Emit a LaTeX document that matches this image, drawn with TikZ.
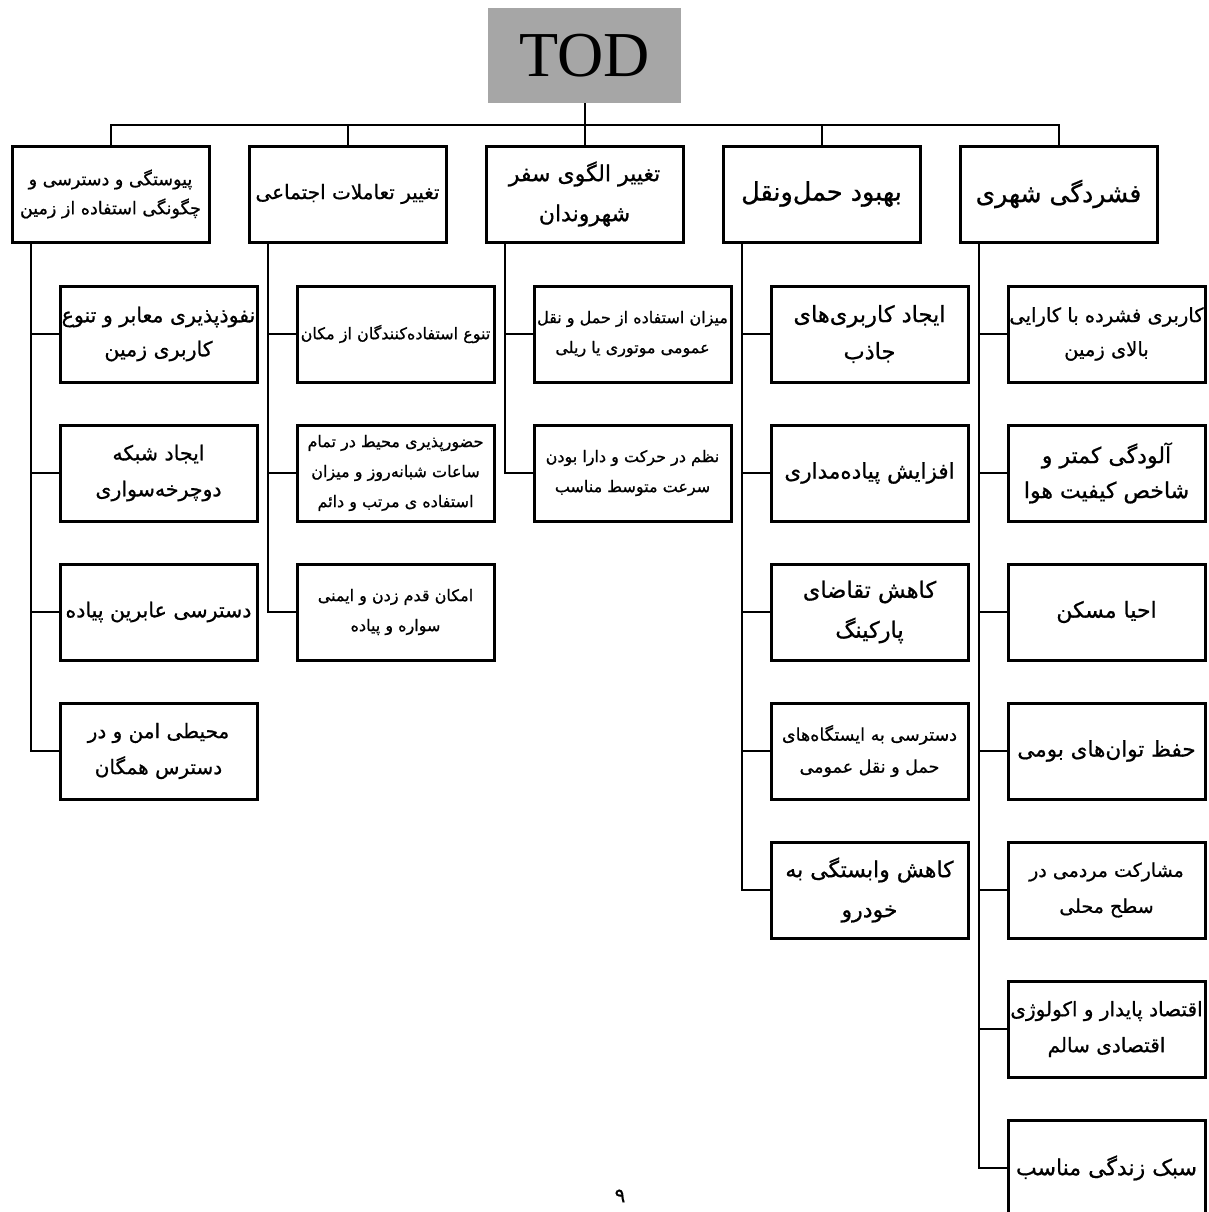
\documentclass[tikz,border=0pt]{standalone}
\usepackage{fontspec}
\newfontfamily\arabicfont[Script=Arabic,FakeBold=0.8]{DejaVu Sans}
\newfontfamily\todfont{Liberation Serif}
\usetikzlibrary{positioning}
\TeXXeTstate=1
\newcommand{\rl}[1]{\beginR #1\endR}
\newcommand{\fsz}[2]{\arabicfont\fontsize{#1}{#2}\selectfont}
\definecolor{todgray}{RGB}{166,166,166}
\tikzset{headbox/.style={rectangle,draw=black,fill=white,line width=3pt,outer sep=0pt,inner sep=0pt,minimum width=197pt,minimum height=96pt,align=center,font=\fsz{24}{40}}}
\tikzset{leafbox/.style={headbox,font=\fsz{21.5}{35}}}
\tikzset{leafsmall/.style={headbox,font=\fsz{16}{30}}}
\tikzset{conn/.style={black,line width=2pt}}

\begin{document}
\begin{tikzpicture}[x=1pt,y=-1pt,node distance=43pt]
  \useasboundingbox (0,0) rectangle (1208,1212);
  \fill[white] (0,0) rectangle (1208,1212);

  % Root
  \node[fill=todgray,minimum width=193pt,minimum height=95pt,inner sep=0pt,font=\todfont\fontsize{64}{64}\selectfont] (tod) at (584.5,55.5) {TOD};

  % Headers
  \node[headbox,font=\fsz{17.5}{29}] (h1) at (110.5,194) {\rl{پیوستگی و دسترسی و}\\\rl{چگونگی استفاده از زمین}};
  \node[headbox,right=40pt of h1,font=\fsz{20}{34}] (h2) {\rl{تغییر تعاملات اجتماعی}};
  \node[headbox,right=40pt of h2,font=\fsz{22}{40}] (h3) {\rl{تغییر الگوی سفر}\\\rl{شهروندان}};
  \node[headbox,right=40pt of h3,font=\fsz{25.5}{40}] (h4) {\rl{بهبود حمل‌ونقل}};
  \node[headbox,right=40pt of h4,font=\fsz{25}{40}] (h5) {\rl{فشردگی شهری}};

  % Column 1
  \node[leafbox,font=\fsz{20.5}{34},below=44pt of h1,xshift=48pt] (a1) {\rl{نفوذپذیری معابر و تنوع}\\\rl{کاربری زمین}};
  \node[leafbox,font=\fsz{20.5}{36},below=of a1] (a2) {\rl{ایجاد شبکه}\\\rl{دوچرخه‌سواری}};
  \node[leafbox,font=\fsz{20.5}{34},below=of a2] (a3) {\rl{دسترسی عابرین پیاده}};
  \node[leafbox,font=\fsz{20}{36},below=of a3] (a4) {\rl{محیطی امن و در}\\\rl{دسترس همگان}};

  % Column 2
  \node[leafsmall,below=44pt of h2,xshift=48pt] (b1) {\rl{تنوع استفاده‌کنندگان از مکان}};
  \node[leafsmall,below=of b1] (b2) {\rl{حضورپذیری محیط در تمام}\\\rl{ساعات شبانه‌روز و میزان}\\\rl{استفاده ی مرتب و دائم}};
  \node[leafsmall,below=of b2] (b3) {\rl{امکان قدم زدن و ایمنی}\\\rl{سواره و پیاده}};

  % Column 3
  \node[leafsmall,below=44pt of h3,xshift=48pt] (c1) {\rl{میزان استفاده از حمل و نقل}\\\rl{عمومی موتوری یا ریلی}};
  \node[leafsmall,below=of c1] (c2) {\rl{نظم در حرکت و دارا بودن}\\\rl{سرعت متوسط مناسب}};

  % Column 4
  \node[leafbox,font=\fsz{22.5}{37},below=44pt of h4,xshift=48pt] (d1) {\rl{ایجاد کاربری‌های}\\\rl{جاذب}};
  \node[leafbox,below=of d1] (d2) {\rl{افزایش پیاده‌مداری}};
  \node[leafbox,font=\fsz{22.5}{40},below=of d2] (d3) {\rl{کاهش تقاضای}\\\rl{پارکینگ}};
  \node[leafbox,font=\fsz{17.5}{32},below=of d3] (d4) {\rl{دسترسی به ایستگاه‌های}\\\rl{حمل و نقل عمومی}};
  \node[leafbox,font=\fsz{22}{40},below=of d4] (d5) {\rl{کاهش وابستگی به}\\\rl{خودرو}};

  % Column 5
  \node[leafbox,font=\fsz{19.5}{34},below=44pt of h5,xshift=48pt] (e1) {\rl{کاربری فشرده با کارایی}\\\rl{بالای زمین}};
  \node[leafbox,font=\fsz{22}{35},below=of e1] (e2) {\rl{آلودگی کمتر و}\\\rl{شاخص کیفیت هوا}};
  \node[leafbox,font=\fsz{22}{35},below=of e2] (e3) {\rl{احیا مسکن}};
  \node[leafbox,font=\fsz{21.5}{35},below=of e3] (e4) {\rl{حفظ توان‌های بومی}};
  \node[leafbox,font=\fsz{19}{36},below=of e4] (e5) {\rl{مشارکت مردمی در}\\\rl{سطح محلی}};
  \node[leafbox,font=\fsz{20}{36},below=of e5] (e6) {\rl{اقتصاد پایدار و اکولوژی}\\\rl{اقتصادی سالم}};
  \node[leafbox,font=\fsz{22}{35},below=of e6] (e7) {\rl{سبک زندگی مناسب}};

  % Tree lines
  \coordinate (bar) at (584.5,125);
  \draw[conn] (tod.south) -- (bar);
  \draw[conn] (h1.north) |- (bar) -| (h5.north);
  \foreach \h in {h2,h3,h4}
    \draw[conn] (\h.north) -- (\h.north |- bar);
  \foreach \c in {a1,a2,a3,a4}
    \draw[conn] ([xshift=19pt]h1.south west) |- (\c.west);
  \foreach \c in {b1,b2,b3}
    \draw[conn] ([xshift=19pt]h2.south west) |- (\c.west);
  \foreach \c in {c1,c2}
    \draw[conn] ([xshift=19pt]h3.south west) |- (\c.west);
  \foreach \c in {d1,d2,d3,d4,d5}
    \draw[conn] ([xshift=19pt]h4.south west) |- (\c.west);
  \foreach \c in {e1,e2,e3,e4,e5,e6,e7}
    \draw[conn] ([xshift=19pt]h5.south west) |- (\c.west);

  % Page number
  \node[font=\fsz{20}{20}] (page) at (620,1196) {۹};
\end{tikzpicture}
\end{document}
